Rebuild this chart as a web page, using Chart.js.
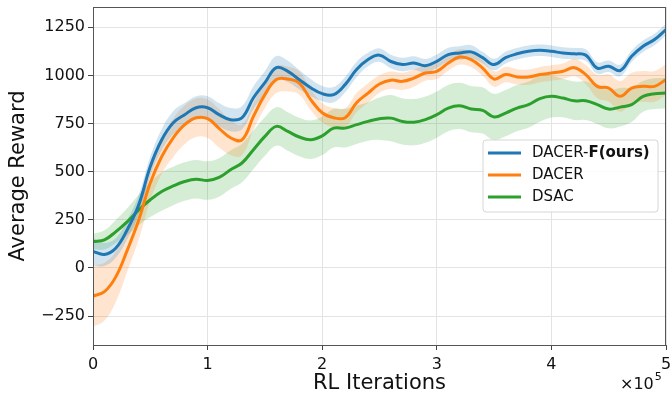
<!DOCTYPE html>
<html>
<head>
<meta charset="utf-8">
<script src="https://cdn.jsdelivr.net/npm/chart.js@4.4.1/dist/chart.umd.min.js"></script>
<style>
  html, body { margin: 0; padding: 0; background: #fff; }
  #wrap { width: 672px; height: 396px; position: relative; }
</style>
</head>
<body>
<div id="wrap"><canvas id="chart"></canvas></div>
<script>
// x in units of 1e5 RL iterations
var iters = [0, 0.1, 0.2, 0.3, 0.4, 0.5, 0.6, 0.7, 0.8, 0.9,
  1.0, 1.1, 1.2, 1.3, 1.4, 1.5, 1.6, 1.7, 1.8, 1.9,
  2.0, 2.1, 2.2, 2.3, 2.4, 2.5, 2.6, 2.7, 2.8, 2.9,
  3.0, 3.1, 3.2, 3.3, 3.4, 3.5, 3.6, 3.7, 3.8, 3.9,
  4.0, 4.1, 4.2, 4.3, 4.4, 4.5, 4.6, 4.7, 4.8, 4.9, 5.0];

var dacerF = [86, 70, 104, 200, 330, 527, 666, 754, 796, 832,
  832, 796, 770, 780, 884, 962, 1040, 1021, 978, 936,
  905, 900, 952, 1030, 1082, 1105, 1072, 1056, 1064, 1050,
  1073, 1108, 1116, 1122, 1092, 1056, 1092, 1112, 1125, 1130,
  1125, 1116, 1112, 1105, 1038, 1047, 1025, 1099, 1151, 1186, 1238];
var dacerFStd = [70, 60, 50, 50, 50, 50, 55, 60, 60, 60,
  60, 60, 60, 60, 60, 60, 60, 55, 50, 45,
  40, 40, 40, 40, 35, 35, 35, 35, 35, 35,
  35, 35, 35, 35, 30, 30, 30, 30, 30, 30,
  30, 30, 30, 30, 30, 30, 30, 30, 30, 30, 30];

var dacer = [-146, -123, -45, 94, 250, 442, 579, 676, 744, 780,
  775, 725, 676, 665, 787, 900, 978, 981, 960, 874,
  806, 780, 780, 858, 908, 955, 975, 969, 986, 1012,
  1021, 1064, 1095, 1082, 1038, 981, 1004, 992, 991, 1004,
  1012, 1021, 1040, 1004, 943, 934, 891, 934, 943, 943, 978];
var dacerStd = [160, 150, 130, 110, 100, 90, 90, 100, 100, 100,
  100, 100, 90, 80, 70, 70, 70, 65, 60, 55,
  50, 50, 50, 50, 50, 45, 45, 45, 45, 40,
  40, 40, 40, 40, 40, 40, 40, 40, 40, 40,
  40, 40, 45, 50, 60, 70, 80, 80, 80, 80, 80];

var dsac = [137, 146, 189, 241, 302, 354, 397, 426, 449, 461,
  454, 470, 510, 545, 614, 683, 735, 709, 680, 666,
  686, 726, 726, 744, 761, 775, 778, 761, 757, 770,
  796, 830, 842, 825, 818, 784, 804, 830, 848, 879,
  891, 882, 868, 868, 848, 825, 835, 848, 891, 905, 908];
var dsacStd = [40, 50, 60, 70, 80, 90, 100, 100, 100, 100,
  100, 100, 100, 100, 100, 100, 100, 100, 100, 100,
  100, 100, 100, 100, 100, 110, 120, 120, 120, 120,
  120, 120, 120, 120, 120, 120, 120, 120, 120, 120,
  110, 100, 100, 100, 100, 100, 100, 90, 80, 80, 80];

var xTicks = [0, 1, 2, 3, 4, 5];
var yTicks = [-250, 0, 250, 500, 750, 1000, 1250];

var series = [
  { name: 'DACER-F(ours)', mean: dacerF, std: dacerFStd, color: '#1f77b4', band: 'rgba(31,119,180,0.2)' },
  { name: 'DACER', mean: dacer, std: dacerStd, color: '#ff7f0e', band: 'rgba(255,127,14,0.2)' },
  { name: 'DSAC', mean: dsac, std: dsacStd, color: '#2ca02c', band: 'rgba(44,160,44,0.2)' }
];

function pts(vals) {
  return iters.map(function(x, i) { return { x: x, y: vals[i] }; });
}

var datasets = [];
series.forEach(function(s) {
  var hi = s.mean.map(function(v, i) { return v + s.std[i]; });
  var lo = s.mean.map(function(v, i) { return v - s.std[i]; });
  datasets.push({ data: pts(hi), borderWidth: 0, pointRadius: 0, fill: '+1', backgroundColor: s.band, tension: 0.4, order: 2 });
  datasets.push({ data: pts(lo), borderWidth: 0, pointRadius: 0, fill: false, tension: 0.4, order: 2 });
});
series.forEach(function(s) {
  datasets.push({ label: s.name, data: pts(s.mean), borderColor: s.color, borderWidth: 3, pointRadius: 0, fill: false, tension: 0.4, order: 1 });
});

var font = 'DejaVu Sans';

function noOverflow(scale) {
  scale.paddingTop = 0;
  scale.paddingBottom = 0;
  scale.paddingLeft = 0;
  scale.paddingRight = 0;
}

var extras = {
  id: 'extras',
  afterDraw: function(chart) {
    var ctx = chart.ctx;
    var a = chart.chartArea;
    ctx.save();
    // frame
    ctx.strokeStyle = '#555';
    ctx.lineWidth = 1;
    ctx.strokeRect(a.left + 0.5, a.top + 0.5, a.right - a.left - 1, a.bottom - a.top);

    // legend (center right)
    var w = 175, h = 72;
    var x0 = a.right - 8 - w, y0 = (a.top + a.bottom) / 2 - h / 2;
    ctx.fillStyle = 'rgba(255,255,255,0.85)';
    ctx.strokeStyle = '#d6d6d6';
    ctx.beginPath();
    ctx.roundRect(x0, y0, w, h, 3);
    ctx.fill();
    ctx.stroke();
    ctx.textBaseline = 'middle';
    series.forEach(function(s, i) {
      var y = y0 + 13 + i * 22;
      ctx.strokeStyle = s.color;
      ctx.lineWidth = 3;
      ctx.beginPath();
      ctx.moveTo(x0 + 5, y);
      ctx.lineTo(x0 + 38, y);
      ctx.stroke();
      ctx.fillStyle = '#111';
      var tx = x0 + 49;
      if (i === 0) {
        ctx.font = '15px "' + font + '"';
        ctx.fillText('DACER-', tx, y);
        tx += ctx.measureText('DACER-').width;
        ctx.font = 'bold 15px "' + font + '"';
        ctx.fillText('F(ours)', tx, y);
      } else {
        ctx.font = '15px "' + font + '"';
        ctx.fillText(s.name, tx, y);
      }
    });

    // offset text
    ctx.fillStyle = '#111';
    ctx.textBaseline = 'alphabetic';
    ctx.font = '16px "' + font + '"';
    ctx.fillText('\u00d710', 620, 389);
    var ww = ctx.measureText('\u00d710').width;
    ctx.font = '11px "' + font + '"';
    ctx.fillText('5', 620 + ww + 1, 380);
    ctx.restore();
  }
};

new Chart(document.getElementById('chart'), {
  type: 'line',
  data: { datasets: datasets },
  plugins: [extras],
  options: {
    responsive: true,
    maintainAspectRatio: false,
    animation: false,
    layout: { padding: { left: 0, right: 6, top: 7, bottom: 0 } },
    plugins: { legend: { display: false }, tooltip: { enabled: false } },
    scales: {
      x: {
        type: 'linear', min: 0, max: 5,
        afterBuildTicks: function(scale) { scale.ticks = xTicks.map(function(v) { return { value: v }; }); },
        afterFit: function(scale) { scale.height = 51; noOverflow(scale); },
        grid: { color: '#e3e3e3', tickColor: '#444', tickLength: 5 },
        border: { color: '#555' },
        ticks: { color: '#111', font: { family: font, size: 16 }, padding: 5, maxRotation: 0 },
        title: { display: true, text: 'RL Iterations', color: '#111', font: { family: font, size: 21 }, padding: { top: 0, bottom: 0 } }
      },
      y: {
        min: -400, max: 1355,
        afterBuildTicks: function(scale) { scale.ticks = yTicks.map(function(v) { return { value: v }; }); },
        afterFit: function(scale) { scale.width = 93; noOverflow(scale); },
        grid: { color: '#e3e3e3', tickColor: '#444', tickLength: 5 },
        border: { color: '#555' },
        ticks: { color: '#111', font: { family: font, size: 16 }, padding: 3,
          callback: function(v) { return v < 0 ? '\u2212' + Math.abs(v) : String(v); } },
        title: { display: true, text: 'Average Reward', color: '#111', font: { family: font, size: 21 }, padding: { top: 6, bottom: 0 } }
      }
    }
  }
});
</script>
</body>
</html>
